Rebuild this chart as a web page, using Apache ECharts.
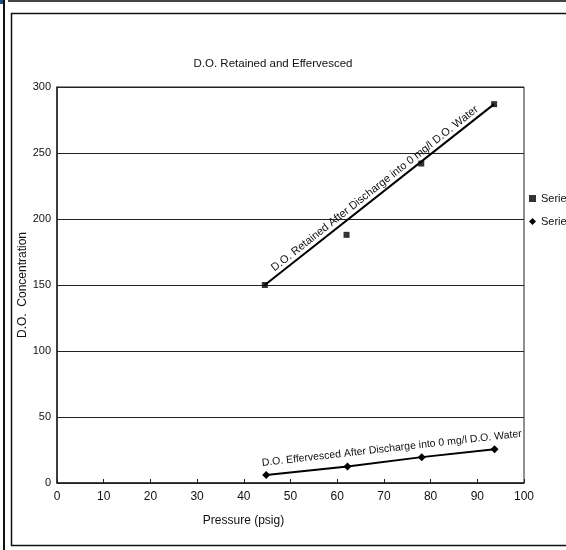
<!DOCTYPE html>
<html>
<head>
<meta charset="utf-8">
<script src="https://cdn.jsdelivr.net/npm/echarts@6/dist/echarts.min.js"></script>
<style>
  html, body { margin: 0; padding: 0; background: #fff; }
  #main { width: 566px; height: 550px; }
</style>
</head>
<body>
<div id="main"></div>
<script>
// values
var pressure1 = [44.5, 62, 78, 93.6];
var retained = [150, 188, 242, 287];
var pressure2 = [44.8, 62.2, 78.1, 93.7];
var effervesced = [6, 12.5, 19.6, 25.5];
var xTicks = [0, 10, 20, 30, 40, 50, 60, 70, 80, 90, 100];
var yTicks = [0, 50, 100, 150, 200, 250, 300];
var retainedLabel = 'D.O. Retained After Discharge into 0 mg/l D.O. Water';
var effervescedLabel = 'D.O. Effervesced After Discharge into 0 mg/l D.O. Water';

var font = "'Liberation Sans', Arial, sans-serif";

function pairs(xs, ys) {
    return xs.map(function (x, i) { return [x, ys[i]]; });
}
var s1 = pairs(pressure1, retained);
var s2 = pairs(pressure2, effervesced);

var chart = echarts.init(document.getElementById('main'));
var option = {
    backgroundColor: '#fff',
    animation: false,
    textStyle: { fontFamily: font, color: '#111' },
    title: {
        text: 'D.O. Retained and Effervesced',
        left: 268,
        textAlign: 'center',
        top: 53,
        textStyle: { fontFamily: font, fontSize: 11.5, fontWeight: 'normal', color: '#111' }
    },
    legend: {
        orient: 'vertical',
        left: 524,
        top: 188,
        itemGap: 12,
        itemWidth: 7,
        itemHeight: 7,
        textStyle: { fontFamily: font, fontSize: 11, color: '#111' },
        data: [
            { name: 'Series1', icon: 'rect' },
            { name: 'Series2', icon: 'diamond' }
        ]
    },
    grid: {
        left: 57, right: 42, top: 87, bottom: 67,
        show: true, borderColor: '#222', borderWidth: 1
    },
    xAxis: {
        type: 'value',
        min: 0, max: 100, interval: 10,
        name: 'Pressure (psig)',
        nameLocation: 'middle',
        nameGap: 32,
        nameTextStyle: { fontFamily: font, fontSize: 12, color: '#111', padding: [0, 94, 0, 0] },
        axisLine: { show: true, lineStyle: { color: '#222', width: 1.5 } },
        axisTick: { show: true, inside: true, length: 4, lineStyle: { color: '#222' } },
        axisLabel: { fontFamily: font, fontSize: 12, color: '#111', margin: 8 },
        splitLine: { show: false }
    },
    yAxis: {
        type: 'value',
        min: 0, max: 300, interval: 50,
        name: 'D.O.  Concentration',
        nameLocation: 'middle',
        nameGap: 28,
        nameMoveOverlap: false,
        nameTextStyle: { fontFamily: font, fontSize: 12, color: '#111' },
        axisLine: { show: true, lineStyle: { color: '#222', width: 1.5 } },
        axisTick: { show: false },
        axisLabel: {
            fontFamily: font, fontSize: 11, color: '#111', margin: 6,
            formatter: function (v) { return yTicks.indexOf(v) >= 0 ? String(v) : ''; }
        },
        splitLine: { show: true, lineStyle: { color: '#222', width: 1.2 } }
    },
    series: [
        {
            name: 'Series1',
            type: 'scatter',
            symbol: 'rect',
            symbolSize: 6,
            itemStyle: { color: '#000' },
            data: s1,
            markLine: {
                silent: true,
                symbol: 'none',
                lineStyle: { color: '#000', width: 2, type: 'solid' },
                label: {
                    show: true, position: 'insideMiddleTop', formatter: retainedLabel,
                    fontFamily: font, fontSize: 11, color: '#111', distance: 2
                },
                data: [[{ coord: s1[0] }, { coord: s1[s1.length - 1] }]]
            }
        },
        {
            name: 'Series2',
            type: 'line',
            symbol: 'diamond',
            symbolSize: 8,
            showAllSymbol: true,
            lineStyle: { color: '#000', width: 2 },
            itemStyle: { color: '#000' },
            data: s2,
            markLine: {
                silent: true,
                symbol: 'none',
                lineStyle: { color: 'transparent', width: 0 },
                label: {
                    show: true, position: 'insideMiddleTop', formatter: effervescedLabel,
                    fontFamily: font, fontSize: 10.5, color: '#111', distance: 7,
                    offset: [12, 0]
                },
                data: [[{ coord: s2[0] }, { coord: s2[s2.length - 1] }]]
            }
        }
    ],
    graphic: [
        { type: 'rect', shape: { x: 0, y: 0, width: 5, height: 4 }, style: { fill: '#1d4f86' } },
        { type: 'line', shape: { x1: 4, y1: 0, x2: 4, y2: 550 }, style: { stroke: '#111', lineWidth: 2 } },
        { type: 'line', shape: { x1: 8, y1: 1, x2: 566, y2: 1 }, style: { stroke: '#444', lineWidth: 2 } },
        { type: 'rect', shape: { x: 11.5, y: 13.5, width: 560, height: 532 }, style: { fill: 'none', stroke: '#111', lineWidth: 1.5 } }
    ]
};
option && chart.setOption(option);
</script>
</body>
</html>
